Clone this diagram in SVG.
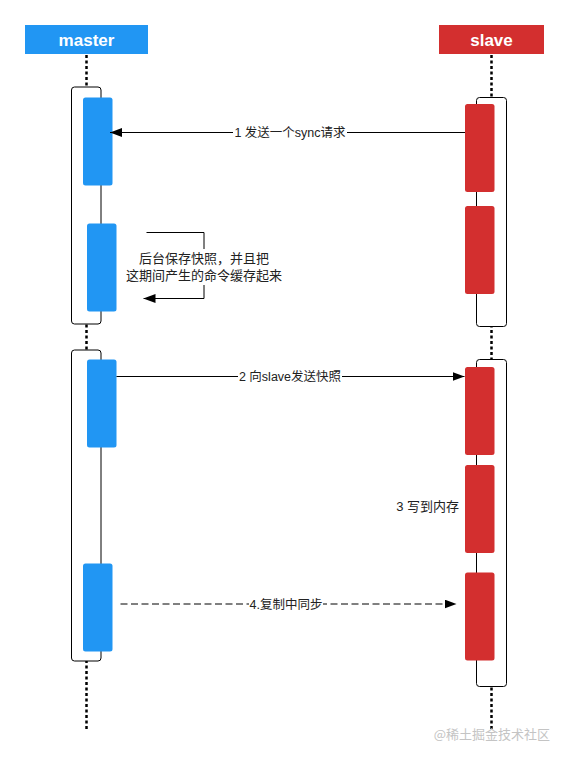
<svg xmlns="http://www.w3.org/2000/svg" width="569" height="759" viewBox="0 0 569 759">
  <style>
    .hdr { font-family: "Liberation Sans", "Noto Sans CJK SC", sans-serif; font-size: 17px; font-weight: bold; fill: #ffffff; text-anchor: middle; }
    .lbl { font-family: "Liberation Sans", "Noto Sans CJK SC", sans-serif; font-size: 12.5px; fill: #222222; }
    .life { stroke: #000000; stroke-width: 2.5; stroke-dasharray: 3 2.5; fill: none; }
    .frame { fill: #ffffff; stroke: #000000; stroke-width: 1; }
    .blue { fill: #2196F3; }
    .red { fill: #D32F2F; }
    .conn { stroke: #000000; stroke-width: 1; fill: none; }
    .dash { stroke-dasharray: 7 3.5; }
    .bg { fill: #ffffff; }
  </style>
  <defs>
    <marker id="arrow" viewBox="0 0 12 9" refX="12" refY="4.5" markerWidth="12" markerHeight="9" markerUnits="userSpaceOnUse" orient="auto">
      <path d="M0,0 L12,4.5 L0,9 z" fill="#000000"/>
    </marker>
  </defs>
  <rect width="569" height="759" fill="#ffffff"/>

  <g id="lifelines">
    <line class="life" x1="86.5" y1="55" x2="86.5" y2="730"/>
    <line class="life" x1="491.5" y1="55" x2="491.5" y2="730"/>
  </g>

  <g id="master-header">
    <rect x="25" y="25" width="123" height="29" fill="#2196F3"/>
    <text class="hdr" x="86.5" y="46">master</text>
  </g>
  <g id="slave-header">
    <rect x="439" y="25" width="105" height="29" fill="#D32F2F"/>
    <text class="hdr" x="491.5" y="46">slave</text>
  </g>

  <g id="master-frame-1">
    <rect class="frame" x="71.5" y="87" width="29.5" height="237" rx="3"/>
    <rect class="blue" x="83" y="97.5" width="29.5" height="88" rx="2.5"/>
    <rect class="blue" x="87" y="223.5" width="29.5" height="88" rx="2.5"/>
  </g>
  <g id="slave-frame-1">
    <rect class="frame" x="476.5" y="97.5" width="30" height="229" rx="3"/>
    <rect class="red" x="465" y="104" width="29.5" height="88" rx="2.5"/>
    <rect class="red" x="465" y="206" width="29.5" height="88" rx="2.5"/>
  </g>
  <g id="master-frame-2">
    <rect class="frame" x="71.5" y="350" width="29.5" height="311" rx="3"/>
    <rect class="blue" x="87" y="359.5" width="29.5" height="88" rx="2.5"/>
    <rect class="blue" x="83" y="563.5" width="29.5" height="88" rx="2.5"/>
  </g>
  <g id="slave-frame-2">
    <rect class="frame" x="476.5" y="359.5" width="30" height="327" rx="3"/>
    <rect class="red" x="465" y="367" width="29.5" height="88" rx="2.5"/>
    <rect class="red" x="465" y="465" width="29.5" height="88" rx="2.5"/>
    <rect class="red" x="465" y="572.5" width="29.5" height="88" rx="2.5"/>
  </g>

  <g id="connectors">
    <line class="conn" x1="465" y1="132.5" x2="110" y2="132.5" marker-end="url(#arrow)"/>
    <rect class="bg" x="233" y="124" width="114" height="17"/>
    <text class="lbl" x="290" y="137" text-anchor="middle">1 发送一个sync请求</text>

    <polyline class="conn" points="146.5,232.5 204,232.5 204,298.5 143.5,298.5" marker-end="url(#arrow)"/>
    <rect class="bg" x="137" y="249" width="134" height="36"/>
    <text class="lbl" x="204" y="262.5" text-anchor="middle" style="font-size:13px">后台保存快照，并且把</text>
    <text class="lbl" x="204" y="279.5" text-anchor="middle" style="font-size:13px">这期间产生的命令缓存起来</text>

    <line class="conn" x1="116.5" y1="376.5" x2="464.5" y2="376.5" marker-end="url(#arrow)"/>
    <rect class="bg" x="238" y="368" width="104" height="17"/>
    <text class="lbl" x="290" y="381" text-anchor="middle">2 向slave发送快照</text>

    <text class="lbl" x="459" y="511" text-anchor="end" style="font-size:13px">3 写到内存</text>

    <line class="conn dash" x1="120.5" y1="604" x2="456.5" y2="604" marker-end="url(#arrow)"/>
    <rect class="bg" x="249" y="596" width="74" height="17"/>
    <text class="lbl" x="286" y="608.5" text-anchor="middle">4.复制中同步</text>
  </g>

  <text x="550" y="739" text-anchor="end" style="font-family:'Noto Sans CJK SC', sans-serif; font-size:13px; fill:#c4c4c4">@稀土掘金技术社区</text>
</svg>
